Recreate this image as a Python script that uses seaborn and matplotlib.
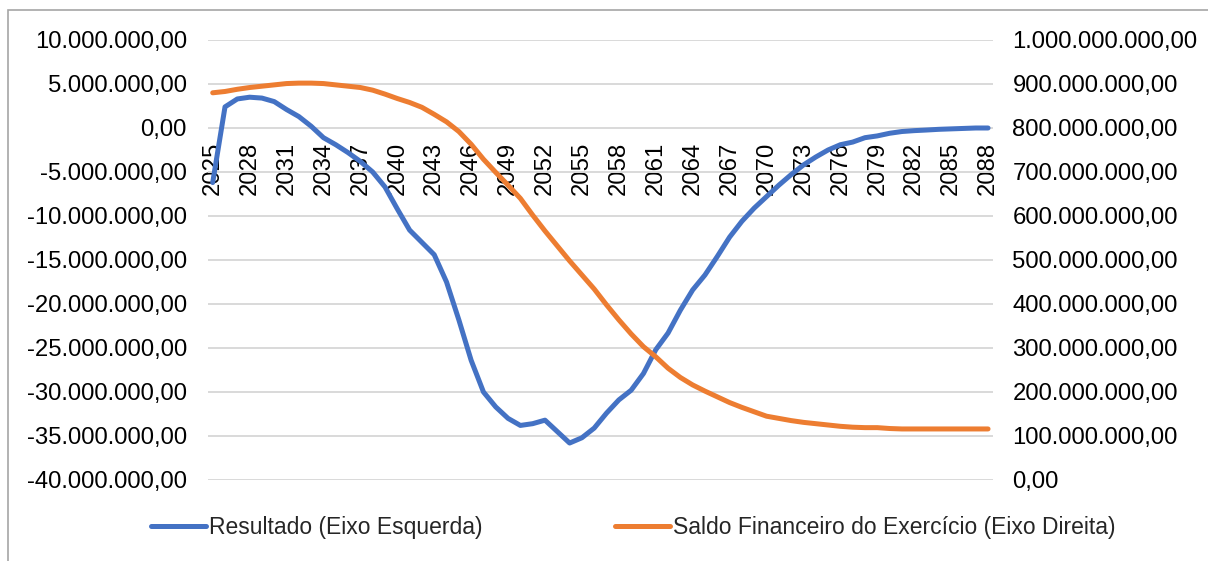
"""
Resultado x Saldo Financeiro - dual axis line chart
"""
import matplotlib
matplotlib.use('Agg')
import matplotlib.pyplot as plt
import seaborn as sns
import pandas as pd
import numpy as np
from matplotlib.ticker import FuncFormatter, MultipleLocator
from matplotlib.patches import Rectangle

sns.set_style("white")
plt.rcParams['font.family'] = ['Liberation Sans', 'DejaVu Sans']

# Data (values in millions of R$)
years = np.arange(2025, 2089)
resultado = [
    -6.2, 2.4, 3.3, 3.5, 3.4, 3.0, 2.1, 1.3, 0.2, -1.1,
    -1.9, -2.8, -3.8, -5.0, -6.7, -9.2, -11.6, -13.0, -14.4, -17.5,
    -21.8, -26.4, -30.0, -31.7, -33.0, -33.8, -33.6, -33.2, -34.5, -35.8,
    -35.2, -34.1, -32.4, -30.9, -29.8, -27.9, -25.2, -23.3, -20.7, -18.4,
    -16.7, -14.6, -12.4, -10.6, -9.1, -7.8, -6.5, -5.3, -4.2, -3.3,
    -2.5, -1.9, -1.6, -1.1, -0.9, -0.6, -0.4, -0.3, -0.23, -0.15,
    -0.1, -0.05, 0.0, 0.0,
]
saldo = [
    880, 883, 888, 892, 895, 898, 901, 902, 902, 901,
    898, 895, 892, 886, 877, 867, 858, 847, 831, 814,
    792, 763, 729, 699, 670, 640, 602, 566, 532, 498,
    466, 434, 398, 364, 332, 303, 280, 254, 233, 216,
    202, 189, 176, 165, 155, 145, 140, 135, 131, 128,
    125, 122, 120, 119, 119, 117, 116, 116, 116, 116,
    116, 116, 116, 116,
]
label_left = 'Resultado (Eixo Esquerda)'
label_right = 'Saldo Financeiro do Exercício (Eixo Direita)'

df = pd.DataFrame({
    'ano': years,
    'resultado': np.array(resultado) * 1e6,
    'saldo': np.array(saldo) * 1e6,
})

BLUE = '#4472C4'
ORANGE = '#ED7D31'
GRID = '#D9D9D9'
FS = 17.2
FS_LEG = 16.5


def br_fmt(v, pos=None):
    s = f'{abs(v):,.2f}'.replace(',', 'X').replace('.', ',').replace('X', '.')
    return ('-' if v < -0.5 else '') + s


fig = plt.figure(figsize=(12.08, 5.61), dpi=100)
ax = fig.add_axes([0.172, 0.1444, 0.65, 0.7843])
ax2 = ax.twinx()

sns.lineplot(data=df, x='ano', y='resultado', ax=ax, color=BLUE,
             linewidth=3.6, label=label_left, legend=False)
sns.lineplot(data=df, x='ano', y='saldo', ax=ax2, color=ORANGE,
             linewidth=3.6, label=label_right, legend=False)

# left axis
ax.set_ylim(-40e6, 10e6)
ax.yaxis.set_major_locator(MultipleLocator(5e6))
ax.yaxis.set_major_formatter(FuncFormatter(br_fmt))
ax.grid(axis='y', color=GRID, linewidth=1.4)
ax.set_axisbelow(True)

# right axis
ax2.set_ylim(0, 1000e6)
ax2.yaxis.set_major_locator(MultipleLocator(100e6))
ax2.yaxis.set_major_formatter(FuncFormatter(br_fmt))

# x axis sits at zero of the left axis
ax.set_xlim(2024.6, 2088.4)
ax.set_xticks(years[::3])
ax.set_xticklabels([str(y) for y in years[::3]])
ax.spines['bottom'].set_position(('data', 0))

for a in (ax, ax2):
    for side in ('top', 'left', 'right', 'bottom'):
        a.spines[side].set_visible(False)
    a.set_xlabel('')
    a.set_ylabel('')

ax.tick_params(axis='x', length=0, pad=10, labelsize=FS, labelrotation=90,
               colors='black')
ax.tick_params(axis='y', length=0, pad=15, labelsize=FS, colors='black')
ax2.tick_params(axis='y', length=0, pad=14, labelsize=FS, colors='black')

# legend
handles = ax.get_lines()[:1] + ax2.get_lines()[:1]
fig.legend(handles, [label_left, label_right], loc='center',
           bbox_to_anchor=(0.524, 0.059), ncol=2, frameon=False,
           fontsize=FS_LEG, handlelength=2.4, handletextpad=0.13,
           columnspacing=5.8)

# chart border
fig.patches.append(Rectangle((8 / 1208, -0.1), 1.2, 1 - 10 / 561 + 0.1,
                             transform=fig.transFigure, fill=False,
                             edgecolor='#A6A6A6', linewidth=1.2))

fig.savefig('out.png', dpi=100)
plt.close(fig)
